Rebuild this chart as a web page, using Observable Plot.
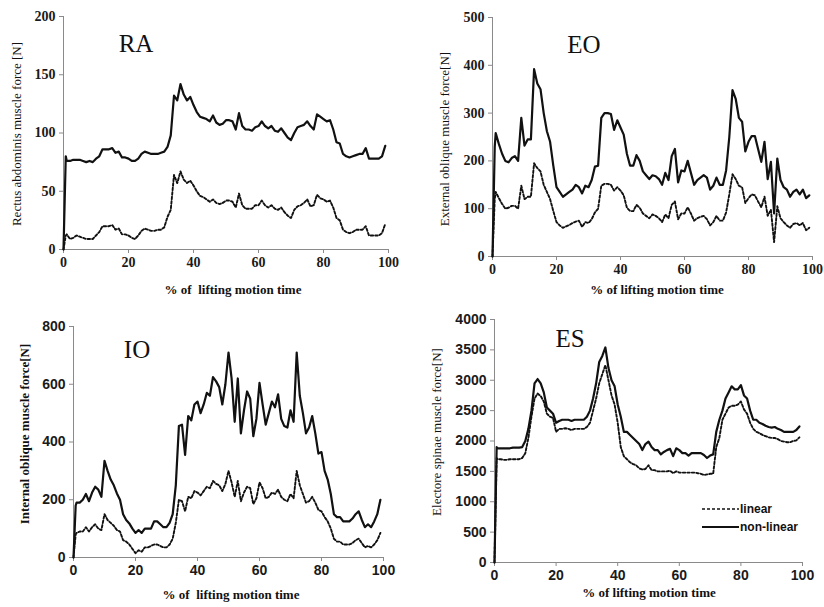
<!DOCTYPE html>
<html>
<head>
<meta charset="utf-8">
<script src="https://cdn.jsdelivr.net/npm/d3@7"></script>
<script src="https://cdn.jsdelivr.net/npm/@observablehq/plot@0.6"></script>
<style>
  html, body { margin: 0; padding: 0; background: #fff; }
  #page { position: relative; width: 824px; height: 607px; overflow: hidden; background: #fff; }
  .panel { position: absolute; }
  .lbl { position: absolute; white-space: pre; color: #111; }
  .ylab { transform: translate(-50%, -50%) rotate(-90deg); font-family: "Liberation Serif", serif; font-size: 13px; }
  .xlab { transform: translate(-50%, -50%); font-family: "Liberation Serif", serif; font-size: 13px; font-weight: bold; }
  .ttl { transform: translate(-50%, -50%); font-family: "Liberation Serif", serif; font-size: 25px; }
</style>
</head>
<body>
<div id="page"></div>
<script>
// time axis (% of lifting motion time)
const t = [0, 0.7, 1, 2, 3, 4, 5, 6, 7, 8, 9, 10, 11, 12, 13, 14, 15, 16, 17, 18, 19, 20, 21, 22, 23, 24, 25, 26, 27, 28, 29, 30, 31, 32, 33, 34, 35, 36, 37, 38, 39, 40, 41, 42, 43, 44, 45, 46, 47, 48, 49, 50, 51, 52, 53, 54, 55, 56, 57, 58, 59, 60, 61, 62, 63, 64, 65, 66, 67, 68, 69, 70, 71, 72, 73, 74, 75, 76, 77, 78, 79, 80, 81, 82, 83, 84, 85, 86, 87, 88, 89, 90, 91, 92, 93, 94, 95, 96, 97, 98, 99];

const xTicks = [0, 20, 40, 60, 80, 100];

// Rectus abdominis
const raNonLinear = [0, 80, 76, 76, 77, 77, 77, 76, 75, 76, 75, 78, 80, 86, 86, 86, 87, 83, 84, 79, 79, 78, 76, 76, 78, 82, 84, 83, 82, 82, 82, 83, 84, 88, 98, 132, 128, 142, 133, 128, 131, 124, 118, 114, 113, 112, 110, 115, 109, 107, 108, 111, 111, 110, 103, 117, 106, 103, 103, 102, 105, 106, 110, 106, 104, 106, 102, 101, 104, 100, 96, 94, 100, 105, 106, 107, 110, 106, 103, 116, 114, 112, 110, 111, 103, 92, 91, 82, 80, 79, 80, 81, 82, 82, 87, 78, 78, 78, 78, 80, 89];
const raLinear = [0, 12, 13, 9, 10, 12, 11, 10, 9, 9, 9, 12, 15, 20, 20, 20, 21, 17, 18, 13, 13, 12, 10, 9, 12, 16, 18, 17, 16, 16, 17, 17, 19, 28, 34, 64, 57, 67, 60, 57, 59, 55, 50, 46, 45, 43, 41, 43, 40, 39, 40, 42, 42, 41, 36, 48, 38, 35, 35, 35, 38, 38, 42, 38, 36, 38, 35, 34, 36, 32, 29, 27, 34, 37, 38, 40, 43, 37, 38, 47, 44, 43, 41, 42, 36, 27, 25, 17, 15, 14, 15, 17, 17, 17, 20, 12, 12, 12, 12, 14, 22];
const raTicks = [0, 50, 100, 150, 200];

// External oblique
const eoNonLinear = [0, 230, 258, 235, 215, 200, 197, 206, 210, 200, 290, 232, 245, 245, 392, 362, 350, 300, 262, 240, 190, 145, 135, 125, 130, 135, 140, 150, 145, 132, 148, 145, 160, 188, 190, 290, 300, 300, 298, 265, 285, 270, 255, 215, 190, 190, 212, 200, 178, 170, 162, 170, 168, 162, 150, 175, 160, 210, 225, 155, 180, 178, 200, 175, 150, 160, 165, 170, 165, 140, 148, 165, 150, 150, 180, 250, 348, 330, 290, 282, 220, 240, 252, 252, 225, 198, 240, 162, 198, 90, 205, 160, 145, 140, 125, 135, 140, 130, 140, 122, 128];
const eoLinear = [0, 120, 135, 122, 110, 100, 102, 106, 106, 100, 148, 120, 125, 125, 195, 185, 178, 150, 135, 120, 95, 72, 65, 60, 63, 66, 70, 73, 75, 62, 72, 70, 78, 92, 100, 148, 152, 152, 150, 138, 145, 138, 128, 102, 95, 95, 108, 102, 90, 85, 80, 88, 85, 80, 72, 88, 80, 108, 115, 78, 90, 90, 103, 90, 75, 80, 83, 85, 78, 65, 72, 85, 75, 75, 92, 130, 172, 162, 148, 145, 112, 122, 130, 128, 115, 103, 125, 85, 98, 30, 105, 80, 72, 65, 60, 68, 70, 65, 70, 55, 60];
const eoTicks = [0, 100, 200, 300, 400, 500];

// Internal oblique
const ioNonLinear = [0, 180, 190, 190, 200, 220, 195, 225, 245, 235, 210, 335, 300, 270, 250, 222, 200, 150, 130, 118, 100, 85, 95, 85, 100, 100, 100, 125, 125, 115, 105, 105, 120, 150, 250, 455, 460, 355, 490, 475, 530, 540, 500, 530, 570, 560, 625, 610, 590, 530, 600, 710, 620, 470, 620, 430, 510, 575, 550, 420, 480, 605, 530, 460, 500, 540, 520, 565, 480, 455, 450, 510, 470, 710, 560, 500, 430, 450, 490, 430, 360, 365, 300, 270, 220, 150, 140, 140, 125, 125, 125, 135, 150, 160, 130, 105, 115, 105, 125, 150, 200];
const ioLinear = [0, 80, 85, 90, 90, 105, 90, 105, 115, 100, 95, 150, 130, 120, 110, 95, 90, 60, 55, 45, 30, 15, 25, 20, 35, 35, 40, 45, 45, 40, 35, 35, 45, 65, 120, 200, 195, 160, 210, 205, 230, 225, 215, 230, 245, 240, 265, 255, 250, 230, 255, 300, 260, 210, 265, 195, 225, 245, 240, 185, 205, 260, 240, 205, 210, 225, 220, 235, 210, 200, 195, 220, 205, 300, 250, 220, 190, 195, 210, 190, 165, 160, 140, 125, 100, 65, 55, 55, 45, 45, 45, 50, 60, 65, 50, 35, 40, 35, 45, 60, 85];
const ioTicks = [0, 200, 400, 600, 800];

// Erector spinae
const esNonLinear = [0, 1900, 1880, 1880, 1880, 1880, 1880, 1890, 1890, 1890, 1900, 2000, 2200, 2500, 2950, 3020, 2950, 2800, 2550, 2500, 2450, 2300, 2330, 2350, 2350, 2350, 2330, 2350, 2350, 2350, 2350, 2400, 2500, 2700, 2950, 3300, 3400, 3540, 3200, 3000, 2900, 2600, 2400, 2150, 2150, 2100, 2050, 2000, 1950, 1850, 1950, 1990, 1900, 1850, 1850, 1780, 1820, 1850, 1870, 1750, 1880, 1850, 1800, 1800, 1760, 1800, 1800, 1800, 1800, 1770, 1720, 1760, 1780, 2150, 2350, 2500, 2700, 2800, 2900, 2850, 2850, 2920, 2750, 2700, 2500, 2350, 2350, 2300, 2280, 2250, 2230, 2220, 2230, 2200, 2180, 2150, 2150, 2150, 2150, 2180, 2240];
const esLinear = [0, 1720, 1700, 1700, 1690, 1690, 1700, 1700, 1700, 1700, 1720, 1800, 2050, 2400, 2700, 2780, 2740, 2650, 2450, 2400, 2380, 2150, 2200, 2200, 2210, 2200, 2180, 2200, 2200, 2200, 2200, 2230, 2300, 2500, 2700, 2950, 3100, 3250, 3000, 2750, 2600, 2300, 1900, 1750, 1700, 1650, 1620, 1600, 1550, 1530, 1540, 1600, 1520, 1520, 1500, 1500, 1500, 1500, 1510, 1470, 1500, 1480, 1480, 1480, 1480, 1480, 1480, 1470, 1460, 1440, 1450, 1460, 1460, 1900, 2050, 2350, 2450, 2550, 2580, 2580, 2600, 2650, 2520, 2450, 2300, 2200, 2150, 2130, 2100, 2080, 2060, 2050, 2050, 2030, 2000, 1990, 1980, 1980, 2000, 2010, 2060];
const esTicks = [0, 500, 1000, 1500, 2000, 2500, 3000, 3500, 4000];

const page = document.getElementById("page");

function addLabel(cls, text, cx, cy, extra) {
  const d = document.createElement("div");
  d.className = "lbl " + cls;
  d.textContent = text;
  d.style.left = cx + "px";
  d.style.top = cy + "px";
  if (extra) Object.assign(d.style, extra);
  page.appendChild(d);
}

function panel(cfg) {
  const nl = t.map((x, i) => ({x, y: cfg.nonlinear[i]}));
  const li = t.map((x, i) => ({x, y: cfg.linear[i]}));
  const chart = Plot.plot({
    width: cfg.width,
    height: cfg.height,
    marginLeft: cfg.ml, marginRight: cfg.mr, marginTop: cfg.mt, marginBottom: cfg.mb,
    style: {fontFamily: cfg.font, fontSize: "14px", fontWeight: "bold", background: "transparent", color: "#1a1a1a"},
    x: {domain: [0, 100], axis: null},
    y: {domain: [0, cfg.yTicks[cfg.yTicks.length - 1]], axis: null},
    marks: [
      Plot.ruleY([0], {stroke: "#8a8a8a", strokeWidth: 1}),
      Plot.ruleX([0], {stroke: "#8a8a8a", strokeWidth: 1}),
      Plot.axisX({ticks: xTicks, tickSize: 4, tickPadding: 4, stroke: "#8a8a8a", fill: "#1a1a1a", label: null, tickFormat: d => String(d)}),
      Plot.axisY({ticks: cfg.yTicks, tickSize: 4, tickPadding: 4, stroke: "#8a8a8a", fill: "#1a1a1a", label: null, tickFormat: d => String(d)}),
      Plot.line(li, {x: "x", y: "y", stroke: "#111", strokeWidth: 1.9, strokeDasharray: "2.5,2"}),
      Plot.line(nl, {x: "x", y: "y", stroke: "#111", strokeWidth: 2.2})
    ]
  });
  chart.classList.add("panel");
  chart.style.left = cfg.left + "px";
  chart.style.top = cfg.top + "px";
  page.appendChild(chart);
}

const serif = "'Liberation Serif', 'Times New Roman', serif";
const sans = "'Liberation Sans', Arial, sans-serif";

panel({left: 0, top: 0, width: 412, height: 300, ml: 63, mr: 24, mt: 16, mb: 51, yTicks: raTicks, nonlinear: raNonLinear, linear: raLinear, font: serif});
panel({left: 412, top: 0, width: 412, height: 300, ml: 80, mr: 12, mt: 17, mb: 44, yTicks: eoTicks, nonlinear: eoNonLinear, linear: eoLinear, font: serif});
panel({left: 0, top: 300, width: 412, height: 307, ml: 73, mr: 29, mt: 26, mb: 50, yTicks: ioTicks, nonlinear: ioNonLinear, linear: ioLinear, font: sans});
panel({left: 412, top: 300, width: 412, height: 307, ml: 82, mr: 22, mt: 19, mb: 45, yTicks: esTicks, nonlinear: esNonLinear, linear: esLinear, font: sans});

// Titles
addLabel("ttl", "RA", 136, 44);
addLabel("ttl", "EO", 584, 45);
addLabel("ttl", "IO", 137, 350);
addLabel("ttl", "ES", 570, 339);

// Y labels
addLabel("ylab", "Rectus abdominis muscle force [N]", 17, 134);
addLabel("ylab", "External oblique muscle force[N]", 445, 139);
addLabel("ylab", "Internal oblique muscle force[N]", 25, 434, {fontWeight: "bold"});
addLabel("ylab", "Electore spinae muscle force[N]", 437, 432);

// X labels
addLabel("xlab", "% of  lifting motion time", 233, 290);
addLabel("xlab", "% of lifting motion time", 657, 290);
addLabel("xlab", "% of  lifting motion time", 231, 595);
addLabel("xlab", "% of lifting motion time", 649, 593);

// Legend (ES panel)
const leg = document.createElement("div");
leg.style.cssText = "position:absolute;left:700px;top:500px;font-family:'Liberation Sans',Arial,sans-serif;font-size:12px;font-weight:bold;color:#111;line-height:18px;";
leg.innerHTML =
  '<div style="display:flex;align-items:center;"><svg width="40" height="10"><line x1="2" y1="5" x2="39" y2="5" stroke="#111" stroke-width="1.6" stroke-dasharray="3,2"/></svg><span>linear</span></div>' +
  '<div style="display:flex;align-items:center;"><svg width="40" height="10"><line x1="2" y1="5" x2="39" y2="5" stroke="#111" stroke-width="1.8"/></svg><span>non-linear</span></div>';
page.appendChild(leg);
</script>
</body>
</html>
